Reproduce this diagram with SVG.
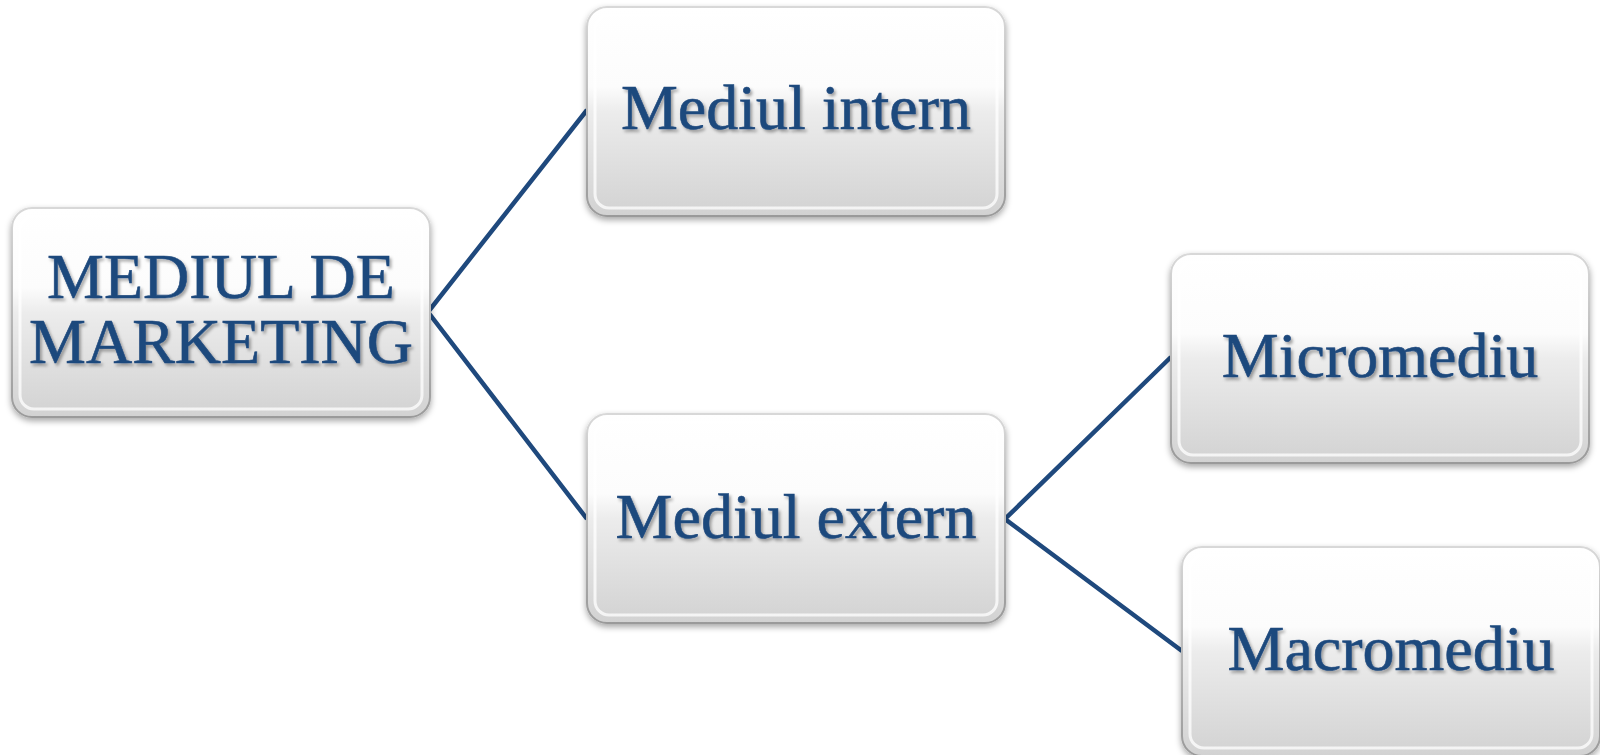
<svg xmlns="http://www.w3.org/2000/svg" width="1600" height="755" viewBox="0 0 1600 755">
<defs>
<linearGradient id="fillG" x1="0" y1="0" x2="0" y2="1">
<stop offset="0" stop-color="#ffffff"/>
<stop offset="0.38" stop-color="#fcfcfc"/>
<stop offset="0.5" stop-color="#ececec"/>
<stop offset="1" stop-color="#d2d2d2"/>
</linearGradient>
<linearGradient id="edgeG" x1="0" y1="0" x2="0" y2="1">
<stop offset="0" stop-color="#d8d8d8"/>
<stop offset="1" stop-color="#9a9a9a"/>
</linearGradient>
<filter id="boxShadow" x="-5%" y="-5%" width="112%" height="115%">
<feDropShadow dx="0" dy="3" stdDeviation="3" flood-color="#000" flood-opacity="0.35"/>
</filter>
<filter id="txtShadow" x="-5%" y="-10%" width="110%" height="130%">
<feDropShadow dx="2" dy="2.5" stdDeviation="1.5" flood-color="#000" flood-opacity="0.35"/>
</filter>
</defs>
<style>
.box{fill:url(#fillG);stroke:url(#edgeG);stroke-width:2;filter:url(#boxShadow)}
.bevel{fill:none;stroke:#ffffff;stroke-opacity:0.75;stroke-width:3}
.lbl{font-family:"Liberation Serif","Times New Roman",serif;font-size:64px;fill:#1F497D;stroke:#1F497D;stroke-width:0.6;text-anchor:middle;filter:url(#txtShadow)}
.conn{stroke:#1F497D;stroke-width:4.5;fill:none;stroke-linejoin:miter}
</style>
<rect width="1600" height="755" fill="#ffffff"/>
<g id="connectors">
<polyline class="conn" points="587,110 428,312 587,519"/>
<polyline class="conn" points="1171,357 1005,519 1182,651"/>
</g>
<g id="node-mediul-de-marketing">
<rect class="box" x="12" y="208" width="418" height="209" rx="20"/>
<rect class="bevel" x="20" y="216" width="402" height="193" rx="14"/>
<text class="lbl" x="221" y="298">MEDIUL DE</text>
<text class="lbl" x="221" y="363">MARKETING</text>
</g>
<g id="node-mediul-intern">
<rect class="box" x="587" y="7" width="418" height="209" rx="20"/>
<rect class="bevel" x="595" y="15" width="402" height="193" rx="14"/>
<text class="lbl" x="796" y="129">Mediul intern</text>
</g>
<g id="node-mediul-extern">
<rect class="box" x="587" y="414" width="418" height="209" rx="20"/>
<rect class="bevel" x="595" y="422" width="402" height="193" rx="14"/>
<text class="lbl" x="796" y="538">Mediul extern</text>
</g>
<g id="node-micromediu">
<rect class="box" x="1171" y="254" width="418" height="209" rx="20"/>
<rect class="bevel" x="1179" y="262" width="402" height="193" rx="14"/>
<text class="lbl" x="1380" y="377">Micromediu</text>
</g>
<g id="node-macromediu">
<rect class="box" x="1182" y="547" width="418" height="209" rx="20"/>
<rect class="bevel" x="1190" y="555" width="402" height="193" rx="14"/>
<text class="lbl" x="1391" y="670">Macromediu</text>
</g>
</svg>
